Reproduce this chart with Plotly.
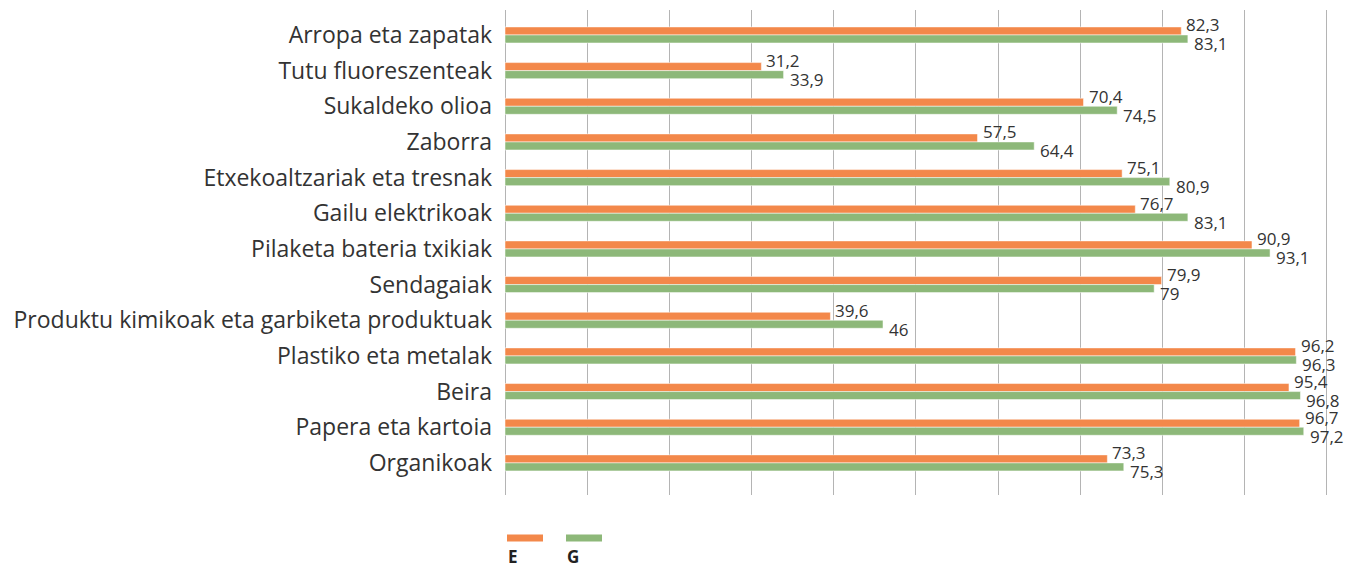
import plotly.graph_objects as go

categories = ["Arropa eta zapatak", "Tutu fluoreszenteak", "Sukaldeko olioa", "Zaborra",
              "Etxekoaltzariak eta tresnak", "Gailu elektrikoak", "Pilaketa bateria txikiak",
              "Sendagaiak", "Produktu kimikoak eta garbiketa produktuak", "Plastiko eta metalak",
              "Beira", "Papera eta kartoia", "Organikoak"]
values_E = [82.3, 31.2, 70.4, 57.5, 75.1, 76.7, 90.9, 79.9, 39.6, 96.2, 95.4, 96.7, 73.3]
values_G = [83.1, 33.9, 74.5, 64.4, 80.9, 83.1, 93.1, 79.0, 46.0, 96.3, 96.8, 97.2, 75.3]
series_names = ["E", "G"]

ORANGE = "#F3884A"
GREEN = "#8DB879"
FONT = "Open Sans"
TXT = "#333333"

# the page body has an 8px default margin; size the figure to fit the window
PAGE_OFF = 8
FIG_W, FIG_H = 1354 - PAGE_OFF, 565 - PAGE_OFF
PLOT_L, PLOT_T, PLOT_R, PLOT_B = 505, 10, 1328, 495   # desired plot area in page pixels
PLOT_W, PLOT_H = PLOT_R - PLOT_L, PLOT_B - PLOT_T


def fmt(v):
    s = f"{v:.1f}"
    if s.endswith(".0"):
        s = s[:-2]
    return s.replace(".", ",")


fig = go.Figure()
for name, vals, col in [(series_names[0], values_E, ORANGE), (series_names[1], values_G, GREEN)]:
    fig.add_trace(go.Bar(
        y=categories, x=vals, orientation="h", name=name,
        marker=dict(color=col, line=dict(color="rgba(255,255,255,0.5)", width=1)),
        showlegend=False, hoverinfo="x+y",
    ))

annotations = []
for c, ve, vg in zip(categories, values_E, values_G):
    annotations.append(dict(x=ve, y=c, text=fmt(ve), showarrow=False, xanchor="left",
                            yanchor="middle", xshift=3, yshift=10,
                            font=dict(family=FONT, size=17, color=TXT)))
    annotations.append(dict(x=vg, y=c, text=fmt(vg), showarrow=False, xanchor="left",
                            yanchor="middle", xshift=4, yshift=-9,
                            font=dict(family=FONT, size=17, color=TXT)))

# custom legend below the plot
legend_items = [(series_names[0], ORANGE, 507), (series_names[1], GREEN, 566)]
shapes = []
for name, col, px in legend_items:
    shapes.append(dict(type="line", xref="paper", yref="paper",
                       x0=(px - PLOT_L) / PLOT_W, x1=(px + 36 - PLOT_L) / PLOT_W,
                       y0=(PLOT_B - 538) / PLOT_H, y1=(PLOT_B - 538) / PLOT_H,
                       line=dict(color=col, width=7)))
    annotations.append(dict(xref="paper", yref="paper", x=(px - 1 - PLOT_L) / PLOT_W,
                            y=(PLOT_B - 556) / PLOT_H, text=f"<b>{name}</b>", showarrow=False,
                            xanchor="left", yanchor="middle",
                            font=dict(family=FONT, size=17, color="#222222")))

fig.update_layout(
    width=FIG_W, height=FIG_H,
    margin=dict(l=PLOT_L - PAGE_OFF, r=FIG_W - (PLOT_R - PAGE_OFF), t=PLOT_T - PAGE_OFF,
                b=FIG_H - (PLOT_B - PAGE_OFF), autoexpand=False),
    barmode="group", bargap=0.55, bargroupgap=0.0,
    plot_bgcolor="white", paper_bgcolor="white",
    font=dict(family=FONT, color=TXT),
    annotations=annotations, shapes=shapes,
)
fig.update_xaxes(range=[0, 100.15], dtick=10, showticklabels=False, showgrid=True,
                 gridcolor="#B4B4B4", gridwidth=1, zeroline=True, zerolinecolor="#B4B4B4",
                 zerolinewidth=1, fixedrange=True)
fig.update_yaxes(range=[12.9, -0.7], type="category", showgrid=False, zeroline=False,
                 ticks="", ticklabelstandoff=12,
                 tickfont=dict(family=FONT, size=23, color=TXT))

fig.write_html("out.html")
